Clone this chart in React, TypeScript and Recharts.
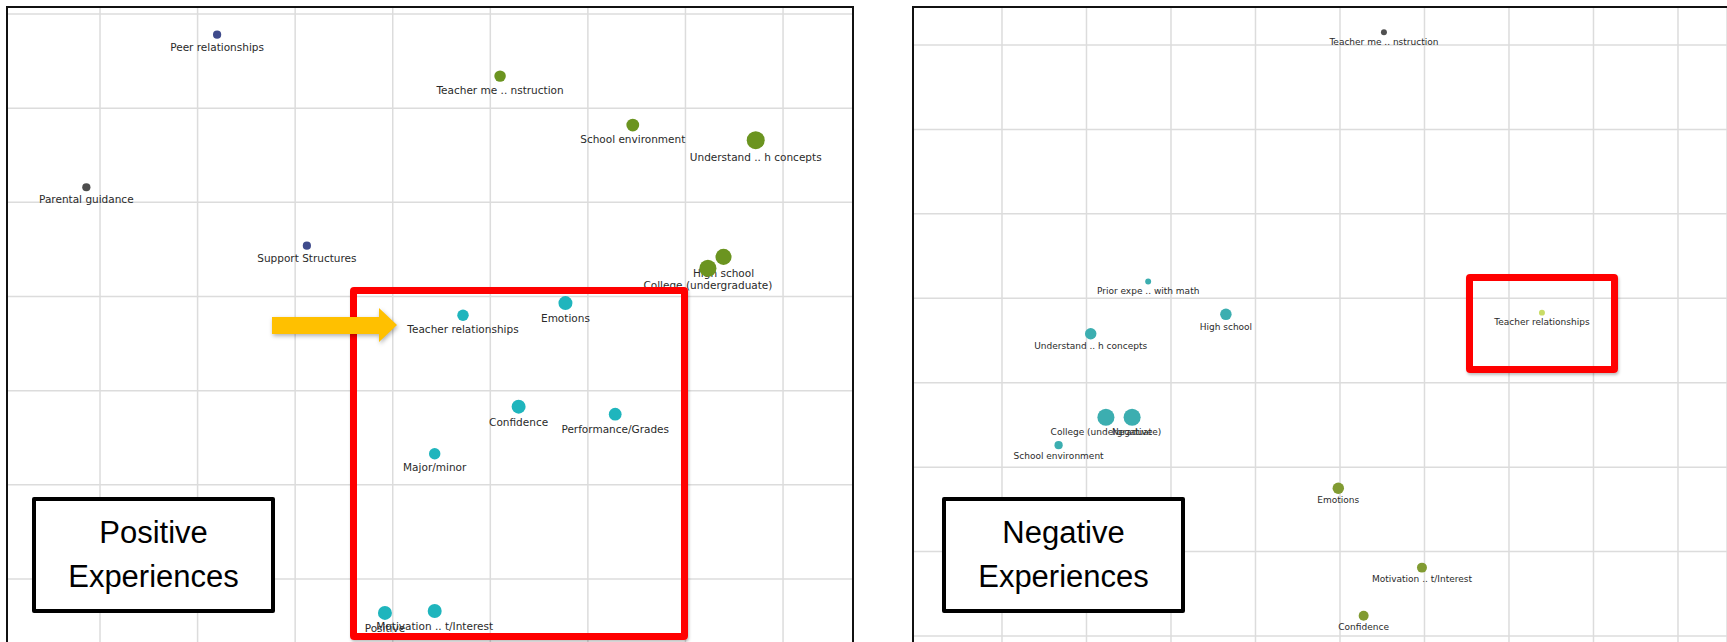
import React from 'react';
import { ScatterChart, Scatter, XAxis, YAxis, ZAxis, CartesianGrid } from 'recharts';

// Positive experiences map
const posNames = [
  'Peer relationships',
  'Parental guidance',
  'Support Structures',
  'Teacher me .. nstruction',
  'School environment',
  'Understand .. h concepts',
  'High school',
  'College (undergraduate)',
  'Teacher relationships',
  'Emotions',
  'Confidence',
  'Performance/Grades',
  'Major/minor',
  'Positive',
  'Motivation .. t/Interest',
];
const posX = [2.2, 0.86, 3.12, 5.1, 6.46, 7.72, 7.39, 7.23, 4.72, 5.77, 5.29, 6.28, 4.43, 3.92, 4.43];
const posY = [6.78, 5.16, 4.54, 6.34, 5.82, 5.66, 4.42, 4.3, 3.8, 3.93, 2.83, 2.75, 2.33, 0.64, 0.66];
const posWeight = [2, 2, 2, 4, 5, 10, 8, 9, 4, 6, 6, 5, 4, 6, 6];
const posCluster = ['peer', 'family', 'peer', 'school', 'school', 'school', 'school', 'school',
  'self', 'self', 'self', 'self', 'self', 'self', 'self'];

// Negative experiences map
const negNames = [
  'Teacher me .. nstruction',
  'Teacher relationships',
  'Prior expe .. with math',
  'High school',
  'Understand .. h concepts',
  'College (undergraduate)',
  'Negative',
  'School environment',
  'Emotions',
  'Motivation .. t/Interest',
  'Confidence',
];
const negX = [5.52, 7.39, 2.73, 3.65, 2.05, 2.23, 2.54, 1.67, 4.98, 5.97, 5.28];
const negY = [7.15, 3.83, 4.2, 3.81, 3.58, 2.59, 2.59, 2.26, 1.75, 0.81, 0.24];
const negWeight = [1, 1, 1, 4, 4, 9, 9, 2, 4, 3, 3];
const negCluster = ['instruction', 'relation', 'school', 'school', 'school', 'school', 'school',
  'school', 'self', 'self', 'self'];

const posGridX = [1, 2, 3, 4, 5, 6, 7, 8];
const posGridY = [0, 1, 2, 3, 4, 5, 6, 7];
const negGridX = [1, 2, 3, 4, 5, 6, 7, 8, 9];
const negGridY = [0, 1, 2, 3, 4, 5, 6, 7];

const posColors: Record<string, string> = {
  peer: '#3f4b8c',
  family: '#4d4d4d',
  school: '#6b9420',
  self: '#1fb5bd',
};
const negColors: Record<string, string> = {
  instruction: '#505050',
  relation: '#c9dc66',
  school: '#3caeb0',
  self: '#819b32',
};

const build = (names: string[], xs: number[], ys: number[], ws: number[], cl: string[]) =>
  names.map((name, i) => ({ name, x: xs[i], y: ys[i], w: ws[i], cluster: cl[i] }));

const posData = build(posNames, posX, posY, posWeight, posCluster);
const negData = build(negNames, negX, negY, negWeight, negCluster);

const Bubble = (props: any) => {
  const { cx, cy, width, size, payload, colors, fontSize, gap } = props;
  const r = width ? width / 2 : Math.sqrt((size || 28) / Math.PI);
  return (
    <g>
      <circle cx={cx} cy={cy} r={r} fill={colors[payload.cluster]} />
      <text
        x={cx}
        y={cy + r + gap}
        textAnchor="middle"
        dominantBaseline="central"
        fontSize={fontSize}
        fontFamily="DejaVu Sans, sans-serif"
        fill="#2a2a2a"
      >
        {payload.name}
      </text>
    </g>
  );
};

interface PanelProps {
  data: any[];
  width: number;
  height: number;
  xDomain: [number, number];
  yDomain: [number, number];
  xTicks: number[];
  yTicks: number[];
  colors: Record<string, string>;
  fontSize: number;
  gap: number;
}

const Panel: React.FC<PanelProps> = ({ data, width, height, xDomain, yDomain, xTicks, yTicks, colors, fontSize, gap }) => (
  <ScatterChart width={width} height={height} margin={{ top: 0, right: 0, bottom: 0, left: 0 }}>
    <CartesianGrid stroke="#dcdcdc" strokeWidth={1.5} />
    <XAxis type="number" dataKey="x" domain={xDomain} ticks={xTicks} hide allowDataOverflow />
    <YAxis type="number" dataKey="y" domain={yDomain} ticks={yTicks} hide allowDataOverflow />
    <ZAxis type="number" dataKey="w" domain={[1, 10]} range={[28, 254]} />
    <Scatter
      data={data}
      isAnimationActive={false}
      shape={(p: any) => <Bubble {...p} colors={colors} fontSize={fontSize} gap={gap} />}
    />
  </ScatterChart>
);

const captionStyle: React.CSSProperties = {
  position: 'absolute',
  width: 243,
  height: 116,
  boxSizing: 'border-box',
  border: '4px solid #000',
  borderRadius: 2,
  background: '#fff',
  display: 'flex',
  flexDirection: 'column',
  alignItems: 'center',
  justifyContent: 'center',
  fontFamily: 'Liberation Sans, Arial, sans-serif',
  fontSize: 31,
  lineHeight: '44px',
  color: '#000',
};

const redBox: React.CSSProperties = {
  position: 'absolute',
  boxSizing: 'border-box',
  border: '7px solid #ff0000',
  borderRadius: 4,
  boxShadow: '1px 2px 3px rgba(0,0,0,0.25)',
};

export default function App() {
  return (
    <div style={{ position: 'fixed', left: 0, top: 0, width: 1727, height: 642, overflow: 'hidden', background: '#fff' }}>
      {/* left map */}
      <div style={{ position: 'absolute', left: 7, top: 7 }}>
        <Panel
          data={posData}
          width={846}
          height={680}
          xDomain={[0.0468, 8.717]}
          yDomain={[-0.147, 7.074]}
          xTicks={posGridX}
          yTicks={posGridY}
          colors={posColors}
          fontSize={10.5}
          gap={8}
        />
      </div>
      <div style={{ position: 'absolute', left: 6, top: 6, width: 848, height: 700, border: '2px solid #111', boxSizing: 'border-box' }} />

      {/* right map */}
      <div style={{ position: 'absolute', left: 913, top: 7 }}>
        <Panel
          data={negData}
          width={814}
          height={680}
          xDomain={[-0.053, 9.58]}
          yDomain={[-0.604, 7.45]}
          xTicks={negGridX}
          yTicks={negGridY}
          colors={negColors}
          fontSize={9}
          gap={6.5}
        />
      </div>
      <div style={{ position: 'absolute', left: 912, top: 6, width: 900, height: 700, border: '2px solid #111', boxSizing: 'border-box' }} />

      {/* annotations */}
      <div style={{ ...redBox, left: 350, top: 287, width: 338, height: 353 }} />
      <svg style={{ position: 'absolute', left: 0, top: 0 }} width={420} height={360}>
        <polygon
          points="272,317 379,317 379,308 397,325 379,342 379,334 272,334"
          fill="#ffc000"
          style={{ filter: 'drop-shadow(1px 2px 2px rgba(0,0,0,0.3))' }}
        />
      </svg>
      <div style={{ ...captionStyle, left: 32, top: 497 }}>
        <span>Positive</span>
        <span>Experiences</span>
      </div>

      <div style={{ ...redBox, left: 1466, top: 274, width: 152, height: 99 }} />
      <div style={{ ...captionStyle, left: 942, top: 497 }}>
        <span>Negative</span>
        <span>Experiences</span>
      </div>
    </div>
  );
}
